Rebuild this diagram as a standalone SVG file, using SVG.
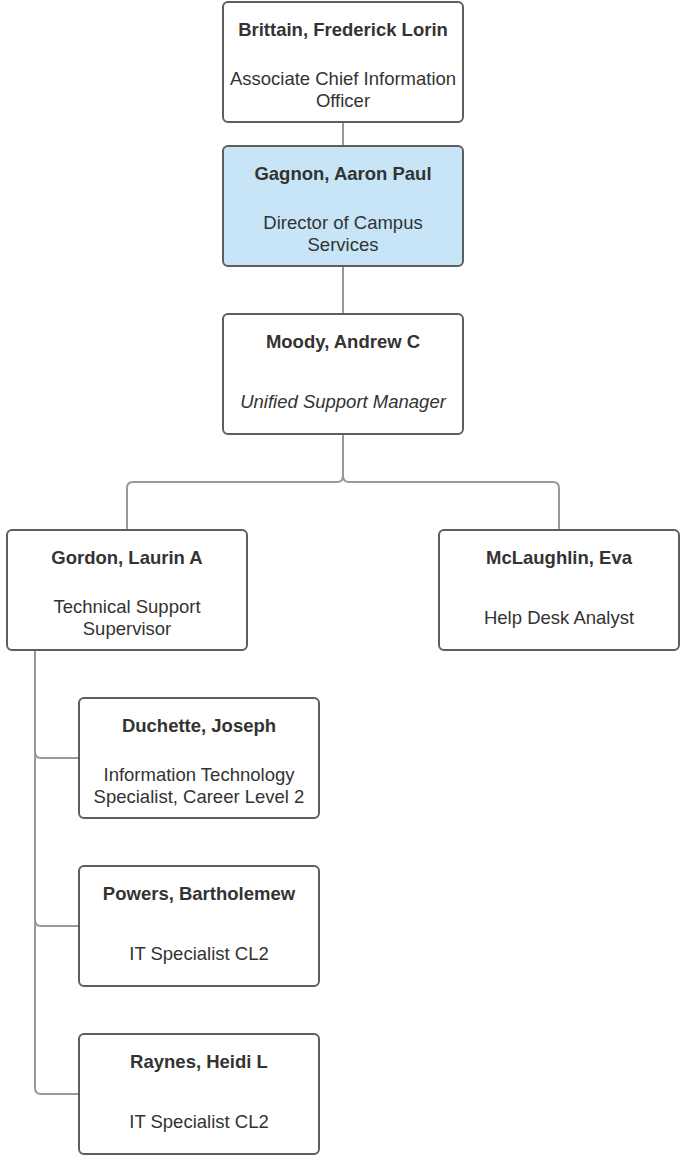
<svg xmlns="http://www.w3.org/2000/svg" width="681" height="1155" viewBox="0 0 681 1155">
<style>
.box{fill:#fff;stroke:#5e5e5e;stroke-width:2}
.hl{fill:#c7e5f6}
.n{font-family:"Liberation Sans",Arial,sans-serif;font-size:18.5px;font-weight:bold;fill:#333;text-anchor:middle}
.t{font-family:"Liberation Sans",Arial,sans-serif;font-size:18.5px;fill:#333;text-anchor:middle}
.i{font-style:italic}
.c{fill:none;stroke:#999;stroke-width:2}
</style>
<rect width="681" height="1155" fill="#fff"/>
<g id="connectors">
<path class="c" d="M343 122V146"/>
<path class="c" d="M343 266V314"/>
<path class="c" d="M343 434V476Q343 482 337 482H133Q127 482 127 488V530"/>
<path class="c" d="M343 434V476Q343 482 349 482H553Q559 482 559 488V530"/>
<path class="c" d="M35 650V752Q35 758 41 758H79"/>
<path class="c" d="M35 650V920Q35 926 41 926H79"/>
<path class="c" d="M35 650V1088Q35 1094 41 1094H79"/>
</g>
<g id="brittain">
<rect class="box" x="223" y="2" width="240" height="120" rx="5"/>
<text class="n" x="343" y="36">Brittain, Frederick Lorin</text>
<text class="t" x="343" y="85">Associate Chief Information</text>
<text class="t" x="343" y="107">Officer</text>
</g>
<g id="gagnon">
<rect class="box hl" x="223" y="146" width="240" height="120" rx="5"/>
<text class="n" x="343" y="180">Gagnon, Aaron Paul</text>
<text class="t" x="343" y="229">Director of Campus</text>
<text class="t" x="343" y="251">Services</text>
</g>
<g id="moody">
<rect class="box" x="223" y="314" width="240" height="120" rx="5"/>
<text class="n" x="343" y="348">Moody, Andrew C</text>
<text class="t i" x="343" y="408">Unified Support Manager</text>
</g>
<g id="gordon">
<rect class="box" x="7" y="530" width="240" height="120" rx="5"/>
<text class="n" x="127" y="564">Gordon, Laurin A</text>
<text class="t" x="127" y="613">Technical Support</text>
<text class="t" x="127" y="635">Supervisor</text>
</g>
<g id="mclaughlin">
<rect class="box" x="439" y="530" width="240" height="120" rx="5"/>
<text class="n" x="559" y="564">McLaughlin, Eva</text>
<text class="t" x="559" y="624">Help Desk Analyst</text>
</g>
<g id="duchette">
<rect class="box" x="79" y="698" width="240" height="120" rx="5"/>
<text class="n" x="199" y="732">Duchette, Joseph</text>
<text class="t" x="199" y="781">Information Technology</text>
<text class="t" x="199" y="803">Specialist, Career Level 2</text>
</g>
<g id="powers">
<rect class="box" x="79" y="866" width="240" height="120" rx="5"/>
<text class="n" x="199" y="900">Powers, Bartholemew</text>
<text class="t" x="199" y="960">IT Specialist CL2</text>
</g>
<g id="raynes">
<rect class="box" x="79" y="1034" width="240" height="120" rx="5"/>
<text class="n" x="199" y="1068">Raynes, Heidi L</text>
<text class="t" x="199" y="1128">IT Specialist CL2</text>
</g>
</svg>
